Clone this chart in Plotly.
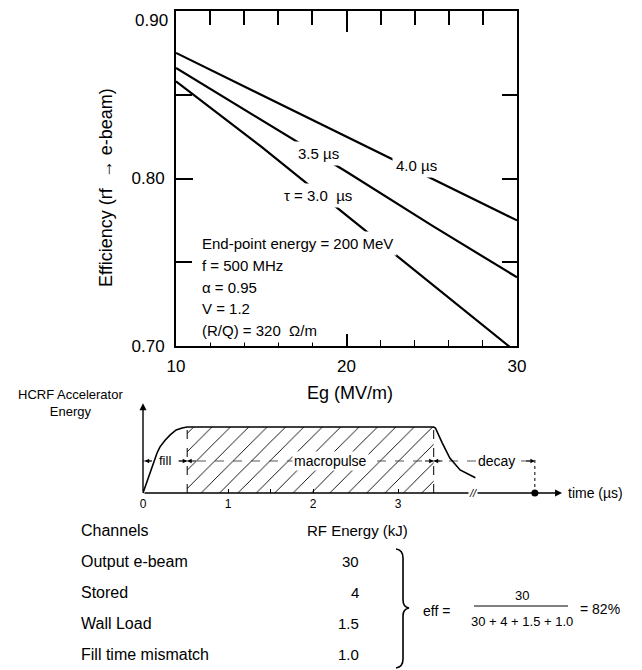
import plotly.graph_objects as go

# ---------------- Data: efficiency vs gradient ----------------
eg = [10, 15, 20, 25, 30]
eff_tau_30 = [0.858, 0.819, 0.778, 0.737, 0.696]
eff_tau_35 = [0.866, 0.835, 0.804, 0.772, 0.741]
eff_tau_40 = [0.875, 0.850, 0.825, 0.800, 0.775]
x_ticks = [10, 20, 30]
x_minor = [12, 14, 16, 18, 22, 24, 26, 28]
y_ticks = [0.70, 0.80, 0.90]
y_ticktext = ["0.70", "0.80", "0.90"]
y_minor = [0.75, 0.85]
params = ["End-point energy = 200 MeV", "f = 500 MHz", "α = 0.95", "V = 1.2", "(R/Q) = 320  Ω/m"]
params_y = [0.761, 0.748, 0.735, 0.7225, 0.7095]

# ---------------- Data: pulse schematic ----------------
rise_t = [0, 0.165, 0.2, 0.26, 0.32, 0.39, 0.46, 0.52]
rise_e = [0, 0.606, 0.70, 0.80, 0.88, 0.955, 0.985, 1.0]
decay_t = [3.42, 3.44, 3.52, 3.61, 3.73, 3.91]
decay_e = [1.0, 0.985, 0.76, 0.53, 0.35, 0.23]
fill_end = 0.52
pulse_end = 3.42
decay_end = 4.61
mid_level = 0.485
time_ticks = [0, 1, 1.5, 2, 3]
time_ticktext = ["0", "1", "", "2", "3"]

# ---------------- Data: energy channels ----------------
channels = ["Output e-beam", "Stored", "Wall Load", "Fill time mismatch"]
rf_energy = [30, 4, 1.5, 1.0]
rf_energy_text = ["30", "4", "1.5", "1.0"]

FONT = "Liberation Sans, Arial, Helvetica, sans-serif"
OFF = 8                      # page body margin
W, H = 642 - OFF, 670 - OFF  # figure fits the window exactly


def px(x):
    return (x - OFF) / W


def py(y):
    return 1 - (y - OFF) / H


fig = go.Figure()

line_style = dict(color="black", width=2.2)
fig.add_trace(go.Scatter(x=eg, y=eff_tau_30, mode="lines", line=line_style, hoverinfo="skip"))
fig.add_trace(go.Scatter(x=eg, y=eff_tau_35, mode="lines", line=line_style, hoverinfo="skip"))
fig.add_trace(go.Scatter(x=eg, y=eff_tau_40, mode="lines", line=line_style, hoverinfo="skip"))
# dummy traces so the mirrored tick axes render
fig.add_trace(go.Scatter(x=[], y=[], xaxis="x3", yaxis="y", hoverinfo="skip"))
fig.add_trace(go.Scatter(x=[], y=[], xaxis="x", yaxis="y3", hoverinfo="skip"))

# ---- pulse schematic traces (x2/y2) ----
fig.add_trace(go.Scatter(
    x=[fill_end, pulse_end, pulse_end, fill_end, fill_end], y=[0, 0, 1, 1, 0],
    xaxis="x2", yaxis="y2", mode="lines", fill="toself",
    fillcolor="white", line=dict(width=0, color="rgba(0,0,0,0)"),
    fillpattern=dict(shape="/", fgcolor="black", bgcolor="white", size=13, solidity=0.07),
    hoverinfo="skip"))
fig.add_trace(go.Scatter(
    x=[fill_end, fill_end, None, pulse_end, pulse_end], y=[0, 1, None, 0, 1],
    xaxis="x2", yaxis="y2", mode="lines", line=dict(color="black", width=1, dash="dash"),
    hoverinfo="skip"))
fig.add_trace(go.Scatter(
    x=[0, decay_end], y=[mid_level, mid_level],
    xaxis="x2", yaxis="y2", mode="lines", line=dict(color="#444", width=0.9, dash="dash"),
    hoverinfo="skip"))
fig.add_trace(go.Scatter(
    x=[decay_end, decay_end], y=[0, mid_level + 0.05],
    xaxis="x2", yaxis="y2", mode="lines", line=dict(color="black", width=1, dash="dot"),
    hoverinfo="skip"))
fig.add_trace(go.Scatter(
    x=rise_t + decay_t, y=rise_e + decay_e,
    xaxis="x2", yaxis="y2", mode="lines", line=dict(color="black", width=1.6),
    hoverinfo="skip"))
fig.add_trace(go.Scatter(
    x=[decay_end], y=[0], xaxis="x2", yaxis="y2", mode="markers",
    marker=dict(color="black", size=7), hoverinfo="skip"))

ann = []
tf = dict(family=FONT, color="black")

# main plot labels
ann.append(dict(x=24.13, y=0.8075, xref="x", yref="y", text="4.0 µs", showarrow=False,
                font=dict(tf, size=15), bgcolor="white", borderpad=3))
ann.append(dict(x=18.33, y=0.8152, xref="x", yref="y", text="3.5 µs", showarrow=False,
                font=dict(tf, size=15), bgcolor="white", borderpad=3))
ann.append(dict(x=18.33, y=0.7896, xref="x", yref="y", text="τ = 3.0  µs", showarrow=False,
                font=dict(tf, size=15), bgcolor="white", borderpad=3))
for txt, yy in zip(params, params_y):
    ann.append(dict(x=11.3, y=yy, xref="x", yref="y", text=txt, showarrow=False,
                    xanchor="left", font=dict(tf, size=15), bgcolor="white", borderpad=3))


def paper_text(x, y, text, size, xanchor="center", yanchor="middle", **kw):
    ann.append(dict(x=px(x), y=py(y), xref="paper", yref="paper", text=text,
                    showarrow=False, xanchor=xanchor, yanchor=yanchor,
                    font=dict(tf, size=size), **kw))


# top y tick label drawn separately so it stays inside the page
paper_text(170, 8.5, y_ticktext[-1], 17, xanchor="right", yanchor="top")
axis_ticktext = y_ticktext[:-1] + [""]

paper_text(106, 188, "Efficiency (rf  → e-beam)", 18, textangle=-90)
paper_text(350, 393, "Eg (MV/m)", 18)

# schematic: axes arrows
ann.append(dict(x=0, y=1.36, ax=0, ay=0, xref="x2", yref="y2", axref="x2", ayref="y2",
                text="", showarrow=True, arrowhead=2, arrowsize=1, arrowwidth=1.4,
                arrowcolor="black", standoff=0))
ann.append(dict(x=4.93, y=0, ax=0, ay=0, xref="x2", yref="y2", axref="x2", ayref="y2",
                text="", showarrow=True, arrowhead=2, arrowsize=1, arrowwidth=1.4,
                arrowcolor="black", standoff=0))
# small arrowheads on the dashed midline
for head, tail in [(0.02, 0.12), (fill_end, fill_end - 0.12), (fill_end, fill_end + 0.12),
                   (pulse_end, pulse_end - 0.12), (pulse_end, pulse_end + 0.12),
                   (decay_end, decay_end - 0.12)]:
    ann.append(dict(x=head, y=mid_level, ax=tail, ay=mid_level, xref="x2", yref="y2",
                    axref="x2", ayref="y2", text="", showarrow=True, arrowhead=2,
                    arrowsize=0.9, arrowwidth=1, arrowcolor="black", standoff=0))
ann.append(dict(x=0.26, y=mid_level, xref="x2", yref="y2", text="fill", showarrow=False,
                font=dict(tf, size=13), bgcolor="white", borderpad=0))
ann.append(dict(x=2.2, y=mid_level, xref="x2", yref="y2", text="macropulse", showarrow=False,
                font=dict(tf, size=14), bgcolor="white", borderpad=1))
ann.append(dict(x=4.16, y=mid_level, xref="x2", yref="y2", text="decay", showarrow=False,
                font=dict(tf, size=14), bgcolor="white", borderpad=1))
ann.append(dict(x=3.88, y=0, xref="x2", yref="y2", text="<i>//</i>", showarrow=False,
                font=dict(tf, size=11), bgcolor="white", borderpad=0))
ann.append(dict(x=4.98, y=0, xref="x2", yref="y2", text="time (µs)", showarrow=False,
                xanchor="left", font=dict(tf, size=14)))
paper_text(70, 403, "HCRF Accelerator<br>Energy", 13)

# table
paper_text(79, 530, "Channels", 16, xanchor="left")
paper_text(357, 530, "RF Energy (kJ)", 15)
row_y = [561, 592, 623, 654]
for name, val, ry in zip(channels, rf_energy_text, row_y):
    paper_text(79, ry, name, 16, xanchor="left")
    paper_text(361, ry, val, 15, xanchor="right")

eff_pct = round(100 * rf_energy[0] / sum(rf_energy))
paper_text(421, 611, "eff =", 14, xanchor="left")
paper_text(522, 595, rf_energy_text[0], 13)
paper_text(522, 621, " + ".join(rf_energy_text), 13)
paper_text(578, 609, f"= {eff_pct}%", 14, xanchor="left")

shapes = []
shapes.append(dict(type="line", xref="paper", yref="paper", x0=px(474), x1=px(568),
                   y0=py(606), y1=py(606), line=dict(color="black", width=1)))


def P(x, y):
    return f"{px(x):.5f},{py(y):.5f}"


brace = (f"M {P(396, 549)} Q {P(403, 550)} {P(403, 558)} L {P(403, 600)} "
         f"Q {P(403, 607)} {P(409, 608)} Q {P(403, 609)} {P(403, 616)} "
         f"L {P(403, 659)} Q {P(403, 667)} {P(396, 668)}")
shapes.append(dict(type="path", xref="paper", yref="paper", path=brace,
                   line=dict(color="black", width=1.6)))

axis_common = dict(showgrid=False, zeroline=False, color="black", automargin=False)

# schematic scale: 85 px per µs with t=0 at page x=143; 66 px per unit energy, baseline at page y=493
T_PX, T0_PX, E_PX, E0_PY = 85.0, 143.0, 66.0, 493.0
y2_domain_top = 0.42
x2_range = [(OFF - T0_PX) / T_PX, (642 - T0_PX) / T_PX]
y2_top_py = 670 - y2_domain_top * H
y2_range = [(E0_PY - 670) / E_PX, (E0_PY - y2_top_py) / E_PX]

fig.update_layout(
    template="none",
    width=W, height=H, margin=dict(l=0, r=0, t=0, b=0, pad=0, autoexpand=False),
    paper_bgcolor="white", plot_bgcolor="rgba(0,0,0,0)", showlegend=False,
    font=dict(family=FONT, color="black"),
    xaxis=dict(axis_common, domain=[px(176), px(517)], range=[10, 30], anchor="y",
               showline=True, linewidth=2, linecolor="black", mirror=True,
               tickvals=x_ticks, ticks="inside", ticklen=12, tickwidth=1.5, tickcolor="black",
               minor=dict(tickvals=x_minor, ticks="inside", ticklen=6, tickwidth=1.3, tickcolor="black"),
               tickfont=dict(size=17, family=FONT, color="black"), ticklabelstandoff=4,
               ticklabeloverflow="allow"),
    xaxis3=dict(axis_common, overlaying="x", side="top", anchor="y", range=[10, 30],
                showline=False, showticklabels=False,
                tickvals=[20], ticks="inside", ticklen=21, tickwidth=1.5, tickcolor="black",
                minor=dict(tickvals=x_minor, ticks="inside", ticklen=14, tickwidth=1.5, tickcolor="black")),
    yaxis=dict(axis_common, domain=[py(346), py(11)], range=[0.70, 0.90], anchor="x",
               showline=True, linewidth=2, linecolor="black", mirror=True,
               tickvals=y_ticks, ticktext=axis_ticktext, ticks="inside", ticklen=17,
               tickwidth=1.5, tickcolor="black",
               minor=dict(tickvals=y_minor, ticks="inside", ticklen=16, tickwidth=1.5, tickcolor="black"),
               tickfont=dict(size=17, family=FONT, color="black"), ticklabelstandoff=6,
               ticklabeloverflow="allow"),
    yaxis3=dict(axis_common, overlaying="y", side="right", anchor="x", range=[0.70, 0.90],
                showline=False, showticklabels=False,
                tickvals=[0.75, 0.80, 0.85], ticks="inside", ticklen=15, tickwidth=1.5,
                tickcolor="black"),
    xaxis2=dict(axis_common, domain=[0, 1], range=x2_range, anchor="free",
                position=py(E0_PY), showline=False,
                tickvals=time_ticks, ticktext=time_ticktext, ticks="inside", ticklen=4,
                tickwidth=1, tickcolor="black",
                tickfont=dict(size=12, family=FONT, color="black"), ticklabelstandoff=2),
    yaxis2=dict(axis_common, domain=[0, y2_domain_top], range=y2_range, anchor="x2",
                visible=False),
    annotations=ann, shapes=shapes,
)

fig.write_html("out.html")
